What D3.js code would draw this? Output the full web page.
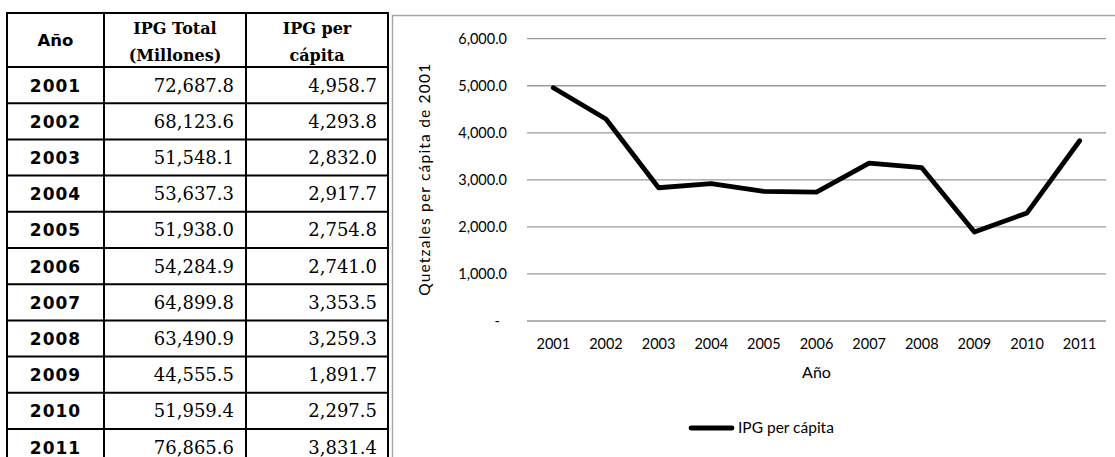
<!DOCTYPE html>
<html><head><meta charset="utf-8">
<script src="https://cdn.jsdelivr.net/npm/d3@7/dist/d3.min.js"></script>
<style>body{margin:0;background:#fff}svg{display:block}</style>
</head><body>
<svg id="c" width="1115" height="457"></svg>
<script>
const years = ["2001","2002","2003","2004","2005","2006","2007","2008","2009","2010","2011"];
const ipgTotal = [72687.8,68123.6,51548.1,53637.3,51938.0,54284.9,64899.8,63490.9,44555.5,51959.4,76865.6];
const ipgPerCapita = [4958.7,4293.8,2832.0,2917.7,2754.8,2741.0,3353.5,3259.3,1891.7,2297.5,3831.4];
const headers = [["Año"],["IPG Total","(Millones)"],["IPG per","cápita"]];
const yTicks = [0,1000,2000,3000,4000,5000,6000];
const yTitle = "Quetzales per cápita de 2001";
const xTitle = "Año";
const seriesName = "IPG per cápita";

const svg = d3.select("#c");
const fmt = d3.format(",.1f");

// ---------- Table ----------
const colX = [7,104,246,388];
const tTop = 13, headH = 54, rowH = 36.2;
const tb = svg.append("g");
const nRows = years.length;
const tBottom = tTop + headH + rowH*nRows;
headers.forEach((h,i)=>{
  const cx=(colX[i]+colX[i+1])/2;
  if(h.length===1){
    tb.append("text").attr("x",cx).attr("y",tTop+headH/2+6).attr("text-anchor","middle")
      .style("font-family","'DejaVu Sans'").style("font-weight","bold").style("font-size","16.5px").text(h[0]);
  } else {
    h.forEach((t,j)=>tb.append("text").attr("x",cx).attr("y",tTop+20.5+j*27).attr("text-anchor","middle")
      .style("font-family","'DejaVu Serif'").style("font-weight","bold").style("font-size","16px").text(t));
  }
});
years.forEach((yr,i)=>{
  const cy = tTop+headH+rowH*i+rowH/2+6.5;
  tb.append("text").attr("x",(colX[0]+colX[1])/2).attr("y",cy).attr("text-anchor","middle")
    .style("font-family","'DejaVu Sans'").style("font-weight","bold").style("font-size","17px")
    .style("letter-spacing","1px").text(yr);
  tb.append("text").attr("x",colX[2]-12).attr("y",cy).attr("text-anchor","end")
    .style("font-family","'DejaVu Serif'").style("font-size","18px").text(fmt(ipgTotal[i]));
  tb.append("text").attr("x",colX[3]-11).attr("y",cy).attr("text-anchor","end")
    .style("font-family","'DejaVu Serif'").style("font-size","18px").text(fmt(ipgPerCapita[i]));
});
for(let i=0;i<=nRows;i++){
  const yy=tTop+headH+rowH*i;
  tb.append("line").attr("x1",colX[0]).attr("x2",colX[3]).attr("y1",yy).attr("y2",yy).attr("stroke","#000").attr("stroke-width",2);
}
colX.forEach(xx=>tb.append("line").attr("x1",xx).attr("x2",xx).attr("y1",tTop).attr("y2",tBottom).attr("stroke","#000").attr("stroke-width",2));
tb.append("line").attr("x1",colX[0]-1).attr("x2",colX[3]+1).attr("y1",tTop).attr("y2",tTop).attr("stroke","#000").attr("stroke-width",2);

// ---------- Chart panel ----------
svg.append("rect").attr("x",392.5).attr("y",15.5).attr("width",800).attr("height",600)
  .attr("fill","#fff").attr("stroke","#a6a6a6").attr("stroke-width",1.5);

const x = d3.scaleBand().domain(years).range([527,1106]).padding(0);
const y = d3.scaleLinear().domain([0,6000]).range([321,38.7]);
const font = "Lato, 'Open Sans', sans-serif";

const g = svg.append("g");
g.selectAll("line.grid").data(yTicks).join("line").attr("class","grid")
  .attr("x1",527).attr("x2",1106).attr("y1",d=>y(d)).attr("y2",d=>y(d))
  .attr("stroke","#9a9a9a").attr("stroke-width",1.3);

g.selectAll("text.yt").data(yTicks).join("text").attr("class","yt")
  .attr("x",d=>d===0?500:507).attr("y",d=>y(d)+5).attr("text-anchor","end")
  .style("font-family",font).style("font-size","14.5px").attr("fill","#000")
  .text(d=>d===0?"-":fmt(d));

g.selectAll("text.xt").data(years).join("text").attr("class","xt")
  .attr("x",d=>x(d)+x.bandwidth()/2).attr("y",349).attr("text-anchor","middle")
  .style("font-family",font).style("font-size","14.5px").text(d=>d);

g.append("text").attr("x",(527+1106)/2).attr("y",378).attr("text-anchor","middle")
  .style("font-family",font).style("font-size","16px").text(xTitle);

g.append("text").attr("transform",`translate(430,${(y(0)+y(6000))/2}) rotate(-90)`)
  .attr("text-anchor","middle").attr("textLength",232).attr("lengthAdjust","spacing")
  .style("font-family",font).style("font-size","15.5px").text(yTitle);

const line = d3.line().x((d,i)=>x(years[i])+x.bandwidth()/2).y(d=>y(d));
g.append("path").datum(ipgPerCapita).attr("d",line).attr("fill","none")
  .attr("stroke","#000").attr("stroke-width",4.8).attr("stroke-linejoin","round").attr("stroke-linecap","round");

g.append("line").attr("x1",691).attr("x2",732).attr("y1",428).attr("y2",428)
  .attr("stroke","#000").attr("stroke-width",4.8).attr("stroke-linecap","round");
g.append("text").attr("x",738).attr("y",433).style("font-family",font).style("font-size","15.5px").text(seriesName);
</script>
</body></html>
